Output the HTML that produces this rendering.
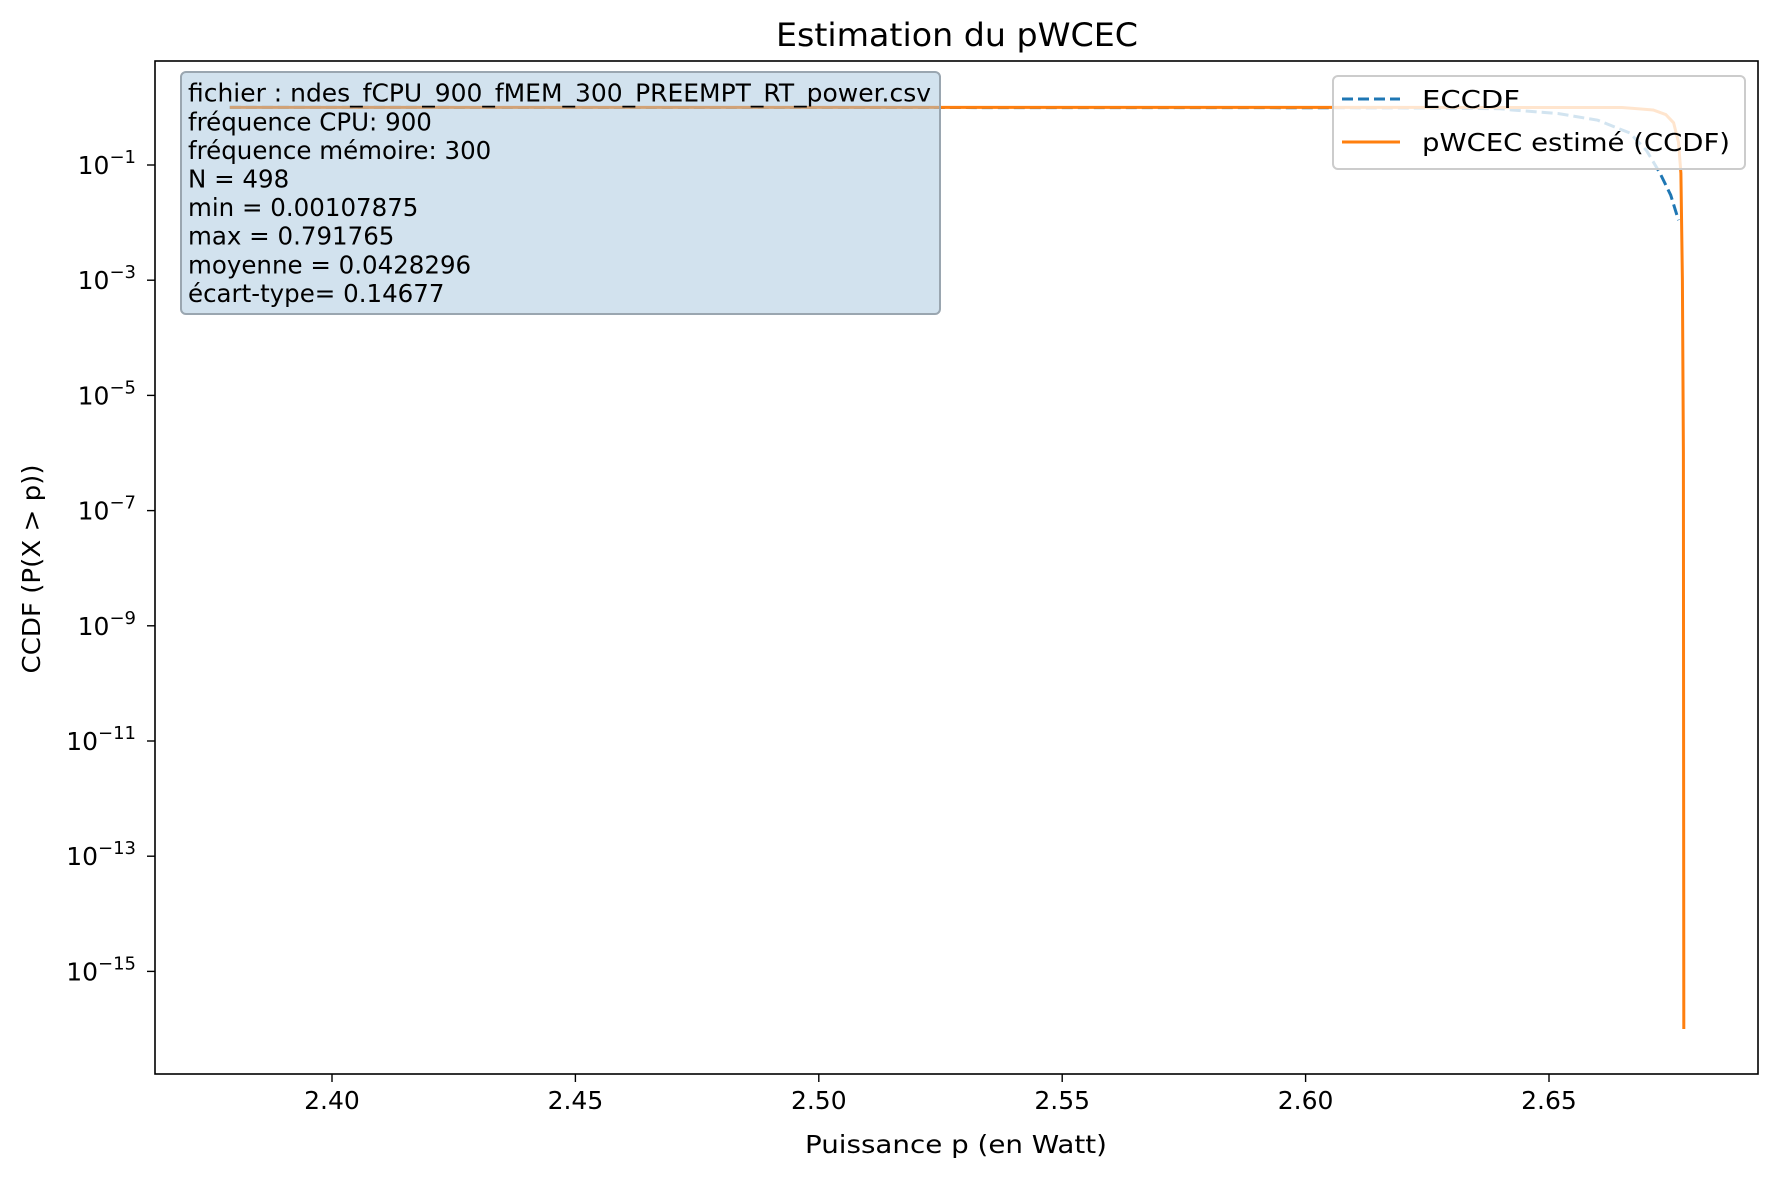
<!DOCTYPE html>
<html><head><meta charset="utf-8"><style>
html,body{margin:0;padding:0;background:#fff;}
svg{display:block;font-family:"DejaVu Sans","Liberation Sans",sans-serif;}
</style></head><body>
<svg id="chart" width="1777" height="1181" viewBox="0 0 1777 1181" xmlns="http://www.w3.org/2000/svg">
<rect width="1777" height="1181" fill="#fff"/>
<text x="957" y="46" font-size="32" text-anchor="middle" textLength="362" lengthAdjust="spacingAndGlyphs">Estimation du pWCEC</text>
<g id="plot"></g>
<text x="956" y="1153" font-size="25" text-anchor="middle" textLength="302" lengthAdjust="spacingAndGlyphs">Puissance p (en Watt)</text>
<text transform="translate(40,569) rotate(-90)" font-size="25" text-anchor="middle" textLength="209" lengthAdjust="spacingAndGlyphs">CCDF (P(X &gt; p))</text>
</svg>
<script>
const xTicks = [2.40, 2.45, 2.50, 2.55, 2.60, 2.65];
const xTickLabels = ["2.40", "2.45", "2.50", "2.55", "2.60", "2.65"];
const yTickExps = [-1, -3, -5, -7, -9, -11, -13, -15];
const eccdfX = [2.379, 2.50, 2.60, 2.625, 2.64, 2.6424, 2.652, 2.660, 2.6666, 2.670, 2.6728, 2.675, 2.6766];
const eccdfY = [1.0, 0.998, 0.99, 0.975, 0.95, 0.9, 0.78, 0.6, 0.36, 0.18, 0.072, 0.03, 0.011];
const pwcecX = [2.379, 2.50, 2.60, 2.665, 2.6714, 2.674, 2.6756, 2.6766, 2.6771, 2.6774, 2.6776, 2.6777];
const pwcecY = [1.0, 1.0, 1.0, 0.995, 0.9, 0.75, 0.54, 0.25, 0.072, 1e-3, 1e-6, 1e-16];
const annotLines = ["fichier : ndes_fCPU_900_fMEM_300_PREEMPT_RT_power.csv","fréquence CPU: 900","fréquence mémoire: 300","N = 498","min = 0.00107875","max = 0.791765","moyenne = 0.0428296","écart-type= 0.14677"];

const L=155,R=1758,T=61,B=1074;
const xs=v=>332+(v-2.40)/0.05*243.4;
const ys=v=>165-(Math.log10(v)+1)*57.6;
const NS="http://www.w3.org/2000/svg";
const g=document.getElementById('plot');
function mk(tag,attrs,parent){const e=document.createElementNS(NS,tag);for(const k in attrs)e.setAttribute(k,attrs[k]);(parent||g).appendChild(e);return e;}

const frame=mk('rect',{x:L,y:T,width:R-L,height:B-T,fill:'none',stroke:'#000','stroke-width':1.6});



xTicks.forEach((v,i)=>{
  const x=xs(v);
  const t=mk('line',{x1:x,x2:x,y1:B,y2:B+8,stroke:'#000','stroke-width':1.4});
  
  
  const lb=mk('text',{x:x,y:B+35,'font-size':25,'text-anchor':'middle'});
  lb.textContent=xTickLabels[i];
  
  
});
yTickExps.forEach(e=>{
  const y=ys(Math.pow(10,e));
  const t=mk('line',{x1:L-8,x2:L,y1:y,y2:y,stroke:'#000','stroke-width':1.4});
  
  
  const lb=mk('text',{x:136,y:y+9,'font-size':25,'text-anchor':'end'});
  
  
  const b=mk('tspan',{},lb);b.textContent='10';
  const s=mk('tspan',{dy:-11,'font-size':18},lb);s.textContent='\u2212'+Math.abs(e);
});

function pathOf(X,Y){return X.map((v,i)=>(i?'L':'M')+xs(v).toFixed(1)+','+ys(Y[i]).toFixed(1)).join('');}
const ec=mk('path',{d:pathOf(eccdfX,eccdfY),fill:'none',stroke:'#1f77b4','stroke-width':3,'stroke-dasharray':'11,5'});


const pw=mk('path',{d:pathOf(pwcecX,pwcecY),fill:'none',stroke:'#ff7f0e','stroke-width':3});



const ab=mk('rect',{x:181,y:72,width:759,height:242,rx:5,fill:'#a5c6de','fill-opacity':0.5,stroke:'#9aa6b0','stroke-width':2});


annotLines.forEach((s,i)=>{
  const t=mk('text',{x:188,y:101.7+i*28.6,'font-size':24.5});
  if(i===0){t.setAttribute('textLength',743);t.setAttribute('lengthAdjust','spacingAndGlyphs');}
  t.textContent=s;
  
  
});

const lg=mk('rect',{x:1333,y:76,width:412,height:93,rx:5,fill:'#fff','fill-opacity':0.8,stroke:'#ccc','stroke-width':2});


const h1=mk('line',{x1:1342,x2:1400,y1:99,y2:99,stroke:'#1f77b4','stroke-width':3,'stroke-dasharray':'11,5'});


const t1=mk('text',{x:1422,y:108,'font-size':25,textLength:98,lengthAdjust:'spacingAndGlyphs'});t1.textContent='ECCDF';


const h2=mk('line',{x1:1342,x2:1400,y1:142,y2:142,stroke:'#ff7f0e','stroke-width':3});


const t2=mk('text',{x:1422,y:151,'font-size':25,textLength:308,lengthAdjust:'spacingAndGlyphs'});t2.textContent='pWCEC estimé (CCDF)';


</script>
</body></html>
